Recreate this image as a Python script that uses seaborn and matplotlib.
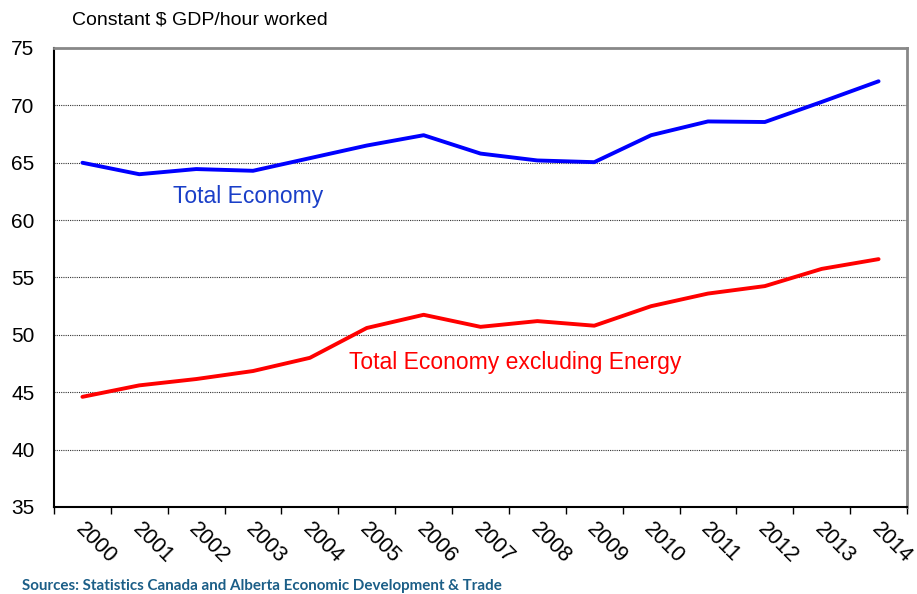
import matplotlib
matplotlib.use("Agg")
import matplotlib.pyplot as plt
import seaborn as sns
import pandas as pd
import numpy as np

years = [str(y) for y in range(2000, 2015)]
total_economy = [65.0, 64.0, 64.45, 64.3, 65.4, 66.5, 67.4, 65.8, 65.2, 65.05, 67.4, 68.6, 68.55, 70.3, 72.1]
excl_energy = [44.6, 45.6, 46.15, 46.85, 48.0, 50.6, 51.75, 50.7, 51.2, 50.8, 52.5, 53.6, 54.25, 55.75, 56.6]
series_names = ["Total Economy", "Total Economy excluding Energy"]
y_ticks = [35, 40, 45, 50, 55, 60, 65, 70, 75]
y_axis_title = "Constant $ GDP/hour worked"
source_text = "Sources: Statistics Canada and Alberta Economic Development & Trade"

sns.set_theme(style="white")
plt.rcParams['font.family'] = ['Liberation Sans', 'DejaVu Sans']
plt.rcParams['text.color'] = 'black'
plt.rcParams['xtick.color'] = 'black'
plt.rcParams['ytick.color'] = 'black'

df = pd.DataFrame({
    "idx": list(range(len(years))) * 2,
    "value": total_economy + excl_energy,
    "series": [series_names[0]] * len(years) + [series_names[1]] * len(years),
})

fig = plt.figure(figsize=(9.17, 5.94), dpi=100)
ax = fig.add_axes([54 / 917, 87 / 594, 853 / 917, 459 / 594])

sns.lineplot(data=df, x="idx", y="value", hue="series",
             palette={series_names[0]: "#0000FF", series_names[1]: "#FF0000"},
             linewidth=2.8, legend=False, ax=ax)

ax.set_xlim(-0.5, len(years) - 0.5)
ax.set_ylim(35, 75)
ax.set_yticks(y_ticks)
ax.set_yticklabels([str(t) for t in y_ticks], fontsize=15)
ax.tick_params(axis="y", length=0, pad=14, labelcolor="black")

ax.set_xticks(np.arange(-0.5, len(years), 1.0))
ax.set_xticklabels([])
ax.tick_params(axis="x", which="major", length=5, width=1, color="black", direction="out", bottom=True)
ax.set_xticks(np.arange(len(years)) - 0.07, minor=True)
ax.set_xticklabels(years, minor=True, fontsize=15.5, rotation=-45, ha="left", va="center",
                   rotation_mode="anchor")
ax.tick_params(axis="x", which="minor", length=0, pad=14, labelcolor="black")

for y in y_ticks[1:-1]:
    ax.axhline(y, color="#333333", linestyle=(0, (1, 1)), linewidth=0.8, zorder=0)

ax.set_xlabel("")
ax.set_ylabel("")
for s in ["left", "bottom"]:
    ax.spines[s].set_color("black")
    ax.spines[s].set_linewidth(1.5)
for s in ["top", "right"]:
    ax.spines[s].set_color("#888888")
    ax.spines[s].set_linewidth(2)

ax.text(1.59, 62.1, series_names[0], color="#1A3FC8", fontsize=16.5, ha="left", va="center")
ax.text(4.69, 47.55, series_names[1], color="#FF0000", fontsize=16.5, ha="left", va="center")

fig.text(72 / 917, 1 - 20 / 594, y_axis_title, fontsize=14, ha="left", va="center", color="black")
fig.text(22 / 917, 1 - 586 / 594, source_text, fontsize=10.9, fontweight="bold",
         color="#1B5E87", ha="left", va="center", family=["Lato", "DejaVu Sans"])

fig.savefig("out.png", dpi=100)
